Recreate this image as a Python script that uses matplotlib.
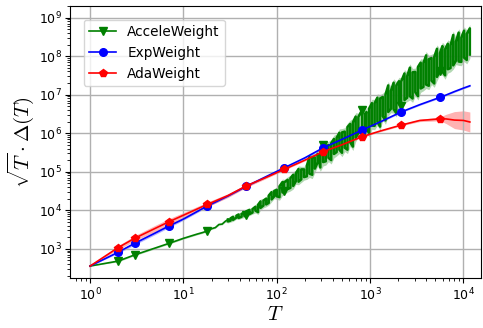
import numpy as np
import matplotlib
matplotlib.use('Agg')
import matplotlib.pyplot as plt

plt.rcParams['mathtext.fontset'] = 'cm'

# T values where markers are drawn
mark_T = [2, 3, 7, 18, 47, 120, 314, 820, 2150, 5600]

# ExpWeight and AdaWeight (log10 of sqrt(T)*Delta(T)), band half-width in log10
smooth_T = [1, 2, 3, 5, 7, 10, 18, 30, 47, 75, 120, 200, 314, 500, 820,
            1300, 2150, 3400, 5600, 6500, 8000, 10000, 11700]
exp_log = [2.55, 2.91, 3.14, 3.41, 3.59, 3.77, 4.11, 4.37, 4.62, 4.86, 5.10, 5.36,
           5.62, 5.84, 6.08, 6.30, 6.55, 6.74, 6.93, 6.99, 7.08, 7.17, 7.23]
exp_spread = [0, 0.03, 0.04, 0.04, 0.04, 0.03, 0.03] + [0.02] * 16
ada_log = [2.55, 3.03, 3.27, 3.53, 3.70, 3.87, 4.15, 4.38, 4.63, 4.84, 5.06, 5.30,
           5.52, 5.70, 5.91, 6.06, 6.21, 6.33, 6.37, 6.37, 6.34, 6.33, 6.29]
ada_spread = [0, 0.05, 0.07, 0.08, 0.08, 0.07, 0.06, 0.05, 0.04, 0.03, 0.02, 0.02,
              0.02, 0.02, 0.02, 0.02, 0.02, 0.03, 0.05, 0.12, 0.22, 0.25, 0.26]

# AcceleWeight (noisy): the curve swings between accele_a and accele_b around each T
accele_T = [1, 2, 3, 5, 7, 10, 12, 14, 16, 18, 20, 22, 24, 26, 28,
            30, 32, 34, 37, 39, 42, 45, 47, 51, 55,
            59, 63, 67, 72, 77, 82, 88, 94,
            100, 107, 115, 120, 131, 140, 150, 160, 171, 183, 196, 210,
            224, 240, 256, 274, 293, 314, 335, 358, 383, 410, 438, 468,
            500, 535, 572, 612, 654, 700, 748, 820, 880, 915, 978, 1045,
            1118, 1195, 1278, 1366, 1460, 1561, 1669, 1785, 1908, 2040,
            2150, 2332, 2493, 2665, 2850, 3046, 3257, 3482, 3723, 3980,
            4255, 4549, 4863, 5200, 5600, 5943, 6354, 6793, 7262, 7764,
            8300, 8874, 9487, 10142, 10843, 11700]
accele_a = [2.55, 2.68, 2.84, 3.02, 3.14, 3.27, 3.33, 3.38, 3.42, 3.46, 3.52, 3.55, 3.63, 3.64, 3.71,
            3.76, 3.73, 3.83, 3.81, 3.89, 3.83, 3.92, 3.87, 4.01, 3.94,
            4.09, 3.95, 4.23, 4.12, 4.30, 4.19, 4.47, 4.36,
            4.53, 4.34, 4.73, 4.49, 4.79, 4.58, 4.92, 4.75, 5.07, 4.80, 5.06, 4.88,
            5.38, 4.92, 5.37, 5.24, 5.11, 5.69, 5.27, 5.69, 5.30, 5.85, 5.51, 6.01,
            5.49, 6.04, 5.57, 6.24, 5.65, 6.43, 6.00, 6.60, 5.98, 6.55, 6.00, 6.78,
            6.19, 6.92, 6.17, 6.94, 6.33, 7.24, 6.63, 7.31, 6.52, 7.35,
            6.71, 7.55, 6.92, 7.70, 6.90, 7.59, 6.96, 7.83, 7.20, 8.02,
            7.23, 7.95, 7.29, 8.19, 7.62, 8.26, 7.50, 8.32, 7.69, 8.55,
            7.88, 8.61, 7.85, 8.66, 7.90, 8.72]
accele_b = [2.55, 2.68, 2.84, 3.02, 3.14, 3.27, 3.33, 3.38, 3.42, 3.46, 3.52, 3.55, 3.63, 3.64, 3.71,
            3.71, 3.79, 3.75, 3.86, 3.80, 3.91, 3.85, 3.97, 3.90, 4.03,
            3.99, 4.14, 4.06, 4.25, 4.15, 4.38, 4.28, 4.50,
            4.36, 4.62, 4.46, 4.72, 4.55, 4.83, 4.63, 4.96, 4.74, 5.06, 4.86, 5.16,
            4.95, 5.36, 5.08, 5.46, 5.50, 5.25, 5.66, 5.36, 5.74, 5.46, 5.88, 5.57,
            6.02, 5.62, 6.16, 5.76, 6.28, 5.88, 6.42, 5.98, 6.50, 6.10, 6.64, 6.20,
            6.78, 6.30, 6.90, 6.44, 7.00, 6.55, 7.10, 6.62, 7.24, 6.76,
            7.34, 6.86, 7.48, 6.96, 7.58, 7.06, 7.72, 7.16, 7.82, 7.26,
            7.92, 7.36, 7.98, 7.46, 8.08, 7.60, 8.18, 7.66, 8.28, 7.76,
            8.38, 7.86, 8.48, 7.96, 8.58, 8.04]
accele_spread = [0.0] + [0.02] * 14 + [0.04] * 10 + [0.06] * 8 + [0.08] * 12 + [0.1] * 60

fig = plt.figure(figsize=(4.83, 3.28), dpi=100)
ax = fig.add_axes([70 / 483, 50 / 328, 411 / 483, 272 / 328])


def draw(T, logv, spread, color, marker, ms, label, lw=1.2):
    T = np.array(T, dtype=float)
    logv = np.array(logv)
    s = np.array(spread)
    ax.fill_between(T, 10 ** (logv - s), 10 ** (logv + s), color=color, alpha=0.3, lw=0)
    idx = [list(T).index(t) for t in mark_T]
    ax.plot(T, 10 ** logv, color=color, marker=marker, ms=ms, markevery=idx,
            lw=lw, label=label)


# AcceleWeight: light band around the swing range, then the swinging line
gT = np.array(accele_T, dtype=float)
ga = np.array(accele_a)
gb = np.array(accele_b)
gs = np.array(accele_spread)
ax.fill_between(gT, 10 ** (np.minimum(ga, gb) - gs), 10 ** (np.maximum(ga, gb) + gs),
                color='green', alpha=0.3, lw=0)

# quiet start (up to T=30) drawn thin, noisy part drawn as a swing between a and b
n_s = accele_T.index(30)
start_marks = [accele_T.index(t) for t in mark_T if t <= 30]
ax.plot(gT[:n_s + 1], 10 ** ga[:n_s + 1], color='green', marker='v', ms=5.5,
        markevery=start_marks, lw=1.2, label='AcceleWeight')

gx = np.repeat(gT[n_s:], 2)
gy = np.empty(2 * len(ga[n_s:]))
gy[0::2] = ga[n_s:]
gy[1::2] = gb[n_s:]
noisy_marks = [2 * (accele_T.index(t) - n_s) for t in mark_T if t > 30]
ax.plot(gx, 10 ** gy, color='green', marker='v', ms=5.5, markevery=noisy_marks, lw=1.8)

draw(smooth_T, exp_log, exp_spread, 'blue', 'o', 5.5, 'ExpWeight')
draw(smooth_T, ada_log, ada_spread, 'red', 'p', 5.5, 'AdaWeight')

ax.set_xscale('log')
ax.set_yscale('log')
ax.set_xlim(0.61, 15400)
ax.set_ylim(174, 2e9)
ax.grid(True, lw=1.0)
ax.tick_params(labelsize=9, pad=2.5)
ax.set_xlabel(r'$T$', fontsize=15, labelpad=1)
ax.set_ylabel(r'$\sqrt{T}\cdot\Delta(T)$', fontsize=15, labelpad=2)
ax.legend(loc='upper left', fontsize=9.8, borderaxespad=1.0)

fig.savefig('out.png', dpi=100)
